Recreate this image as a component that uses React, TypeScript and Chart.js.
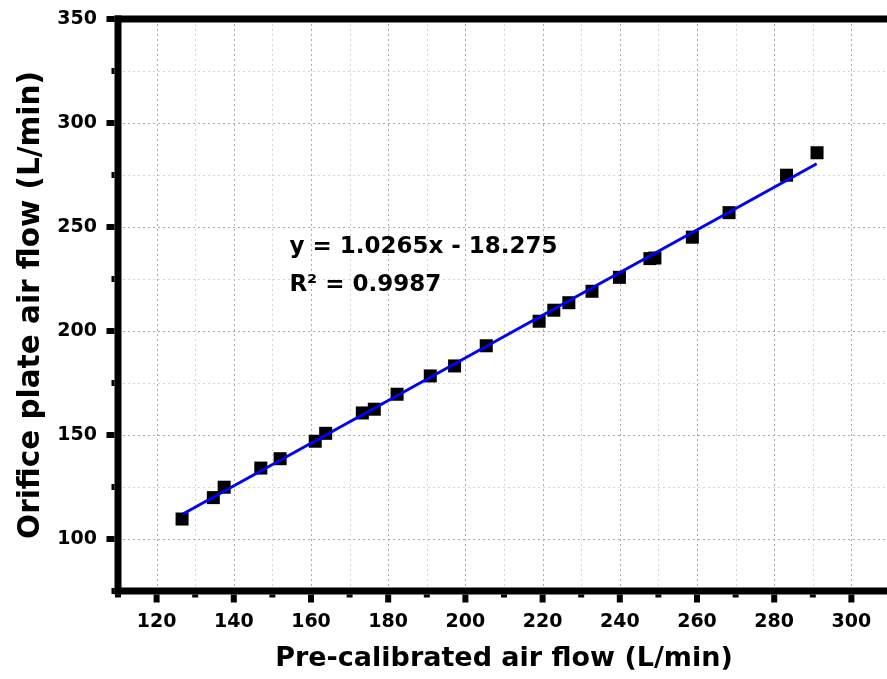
import React, { useEffect, useRef } from "react";
import { Chart, registerables } from "chart.js";

Chart.register(...registerables);

const preCalibrated = [126.6, 134.7, 137.5, 147.0, 152.0, 161.1, 163.8, 173.3, 176.4, 182.3, 190.9, 197.2, 205.4, 219.1, 222.9, 226.8, 232.8, 239.9, 247.8, 249.1, 258.8, 268.3, 283.2, 291.1];
const orificePlate = [109.6, 119.9, 124.9, 134.1, 138.6, 147.0, 150.8, 160.6, 162.4, 169.6, 178.4, 183.2, 192.9, 204.7, 210.0, 213.6, 219.1, 225.8, 234.8, 235.1, 245.1, 256.9, 274.9, 285.7];

// Linear fit line endpoints
const fitX = [126.8, 291.0];
const fitY = [112.0, 280.4];

const fitEquation = "y = 1.0265x - 18.275";
const fitR2 = "R\u00B2 = 0.9987";

const xTitle = "Pre-calibrated air flow (L/min)";
const yTitle = "Orifice plate air flow (L/min)";

const xMin = 110, xMax = 310, xStep = 10, xLabelStep = 20;
const yMin = 75, yMax = 350, yStep = 25, yLabelStep = 50;

const FONT = "'DejaVu Sans', sans-serif";

const framePlugin = {
  id: "originFrame",
  beforeDatasetsDraw(chart: any) {
    const { ctx, chartArea: a, scales } = chart;
    const xs = scales.x, ys = scales.y;
    ctx.save();
    ctx.lineWidth = 1;
    ctx.setLineDash([2, 3]);
    for (let v = xMin + xStep; v < xMax; v += xStep) {
      const p = Math.round(xs.getPixelForValue(v)) + 0.5;
      ctx.strokeStyle = v % xLabelStep === 0 ? "#ababab" : "#d6d6d6";
      ctx.beginPath();
      ctx.moveTo(p, a.bottom);
      ctx.lineTo(p, a.top);
      ctx.stroke();
    }
    for (let v = yMin + yStep; v < yMax; v += yStep) {
      const p = Math.round(ys.getPixelForValue(v)) + 0.5;
      ctx.strokeStyle = v % yLabelStep === 0 ? "#ababab" : "#d6d6d6";
      ctx.beginPath();
      ctx.moveTo(a.left, p);
      ctx.lineTo(a.right, p);
      ctx.stroke();
    }
    ctx.restore();
  },
  afterDraw(chart: any) {
    const { ctx, chartArea: a, scales } = chart;
    const xs = scales.x, ys = scales.y;
    const bw = 7;
    ctx.save();
    ctx.fillStyle = "#000";
    // frame (top, bottom, left)
    ctx.fillRect(a.left - bw / 2, a.top - bw / 2, a.right - a.left + bw, bw);
    ctx.fillRect(a.left - bw / 2, a.bottom - bw / 2, a.right - a.left + bw, bw);
    ctx.fillRect(a.left - bw / 2, a.top - bw / 2, bw, a.bottom - a.top + bw);
    // ticks
    const tw = 6;
    for (let v = xMin; v <= xMax; v += xStep) {
      const p = xs.getPixelForValue(v);
      const len = v % xLabelStep === 0 ? 8 : 3;
      ctx.fillRect(p - tw / 2, a.bottom + bw / 2, tw, len);
    }
    for (let v = yMin; v <= yMax; v += yStep) {
      const p = ys.getPixelForValue(v);
      const len = v % yLabelStep === 0 ? 8 : 3;
      ctx.fillRect(a.left - bw / 2 - len, p - tw / 2, len, tw);
    }
    // fit annotation
    ctx.font = `bold 23px ${FONT}`;
    ctx.textAlign = "left";
    ctx.textBaseline = "alphabetic";
    const tx = xs.getPixelForValue(154.4);
    ctx.fillText(fitEquation, tx, ys.getPixelForValue(237.5));
    ctx.fillText(fitR2, tx, ys.getPixelForValue(219.2));
    ctx.restore();
  },
};

export default function App() {
  const ref = useRef<HTMLCanvasElement>(null);
  useEffect(() => {
    if (!ref.current) return;
    const chart = new Chart(ref.current, {
      type: "scatter",
      data: {
        datasets: [
          {
            type: "line",
            label: "Linear fit",
            data: fitX.map((x, i) => ({ x, y: fitY[i] })),
            borderColor: "#0000ff",
            borderWidth: 3,
            pointRadius: 0,
            showLine: true,
            fill: false,
            order: 0,
          } as any,
          {
            label: "Data",
            data: preCalibrated.map((x, i) => ({ x, y: orificePlate[i] })),
            pointStyle: "rect",
            pointRadius: 9.2,
            backgroundColor: "#000",
            borderColor: "#000",
            borderWidth: 0,
            order: 1,
          },
        ],
      },
      options: {
        animation: false,
        responsive: false,
        devicePixelRatio: 1,
        layout: { padding: { left: 0, top: 19, right: 10, bottom: 0 } },
        plugins: { legend: { display: false }, tooltip: { enabled: false } },
        scales: {
          x: {
            type: "linear",
            min: xMin,
            max: xMax,
            grid: { display: false, drawTicks: false },
            border: { display: false },
            ticks: {
              stepSize: xStep,
              autoSkip: false,
              maxRotation: 0,
              padding: 20,
              color: "#000",
              font: { family: FONT, size: 19, weight: "bold" },
              callback: (v: any) => (v % xLabelStep === 0 && v > xMin && v < xMax ? String(v) : ""),
            },
            title: {
              display: true,
              text: xTitle,
              color: "#000",
              font: { family: FONT, size: 27, weight: "bold" },
              padding: { top: 0, bottom: 4 },
            },
            afterFit: (s: any) => {
              s.height = 88;
              s.paddingLeft = 0;
              s.paddingRight = 0;
            },
          },
          y: {
            type: "linear",
            min: yMin,
            max: yMax,
            grid: { display: false, drawTicks: false },
            border: { display: false },
            ticks: {
              stepSize: yStep,
              autoSkip: false,
              padding: 21,
              color: "#000",
              font: { family: FONT, size: 19, weight: "bold" },
              callback: (v: any) => (v % yLabelStep === 0 && v > yMin ? String(v) : ""),
            },
            title: {
              display: true,
              text: yTitle,
              color: "#000",
              font: { family: FONT, size: 29.5, weight: "bold" },
              padding: { top: 14, bottom: 0 },
            },
            afterFit: (s: any) => {
              s.width = 118;
              s.paddingTop = 0;
              s.paddingBottom = 0;
            },
          },
        },
      } as any,
      plugins: [framePlugin],
    });
    return () => chart.destroy();
  }, []);
  return (
    <div style={{ position: "fixed", left: 0, top: 0, width: 887, height: 679, overflow: "hidden", background: "#fff" }}>
      <canvas ref={ref} width={900} height={679} style={{ width: 900, height: 679, display: "block" }} />
    </div>
  );
}
